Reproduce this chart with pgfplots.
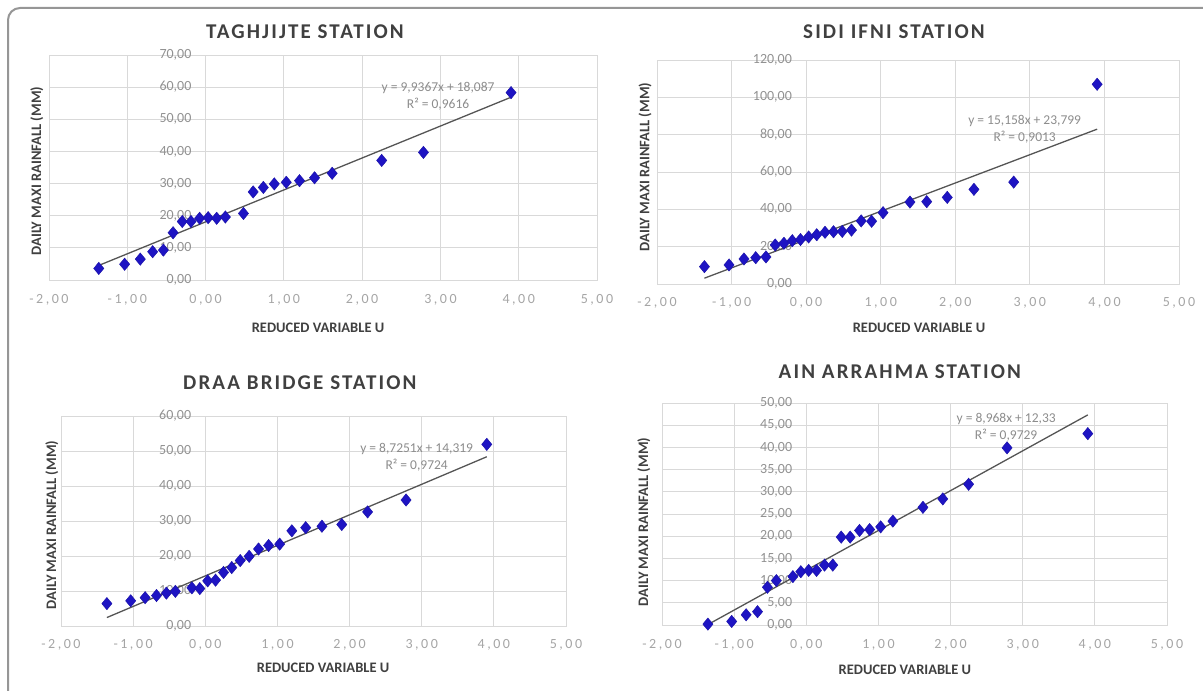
\documentclass[border=0pt]{standalone}
\usepackage{fontspec}
\setmainfont{Carlito}
\newfontfamily\titlefont[LetterSpace=10]{Carlito}
\newfontfamily\xtickfont[LetterSpace=18]{Carlito}
\usepackage{pgfplots}
\pgfplotsset{compat=1.18}
\definecolor{mk}{RGB}{30,20,195}
\definecolor{trend}{RGB}{85,85,85}
\definecolor{gridc}{RGB}{217,217,217}
\definecolor{ttl}{RGB}{64,64,64}
\definecolor{xt}{RGB}{165,165,165}
\definecolor{yt}{RGB}{145,145,145}
\definecolor{eq}{RGB}{140,140,140}
\definecolor{framec}{RGB}{150,150,150}

\tikzset{eqnode/.style={font=\fontsize{13.5bp}{17bp}\selectfont, text=eq, align=center, inner sep=0pt}}

\pgfplotsset{
  panel/.style={
    scale only axis,
    xmin=-2, xmax=5, ymin=0,
    xtick={-2,-1,0,1,2,3,4,5},
    xticklabels={{-2,00},{-1,00},{0,00},{1,00},{2,00},{3,00},{4,00},{5,00}},
    grid=major,
    major grid style={draw=gridc, line width=0.9bp},
    axis line style={draw=gridc, line width=0.9bp},
    major tick length=0pt,
    tick style={draw=none},
    x tick label style={font=\xtickfont\fontsize{14bp}{16bp}\selectfont, text=xt, anchor=center, inner sep=0pt},
    y tick label style={font=\fontsize{14bp}{16bp}\selectfont, text=yt, anchor=east, inner sep=0pt},
    every axis title/.style={font=\titlefont\bfseries\fontsize{21bp}{25bp}\selectfont, text=ttl, anchor=center},
    every axis x label/.style={font=\bfseries\fontsize{14.5bp}{17bp}\selectfont, text=ttl, anchor=center},
    every axis y label/.style={font=\bfseries\fontsize{14.5bp}{17bp}\selectfont, text=ttl, anchor=center, rotate=90},
    xlabel={REDUCED VARIABLE U},
    ylabel={DAILY MAXI RAINFALL (MM)},
    clip=false,
  },
  pts/.style={only marks, mark=diamond*, mark size=6.2bp, mark options={fill=mk, draw=mk!85!black, line width=0.4bp, xscale=1.1}},
  trendl/.style={no marks, draw=trend, line width=1.3bp},
}

\begin{document}
\begin{tikzpicture}[x=1bp,y=1bp]
\path[use as bounding box] (0,0) rectangle (1203,-691);
\draw[framec, line width=2bp, rounded corners=12bp] (8,-8) rectangle (1260,-740);

% ---------- TAGHJIJTE ----------
\begin{axis}[panel, at={(49bp,-280bp)}, anchor=south west, width=548bp, height=225bp,
  ymax=70, ytick={0,10,20,30,40,50,60,70},
  yticklabels={{0,00},{10,00},{20,00},{30,00},{40,00},{50,00},{60,00},{70,00}},
  y tick label style={xshift=142.6bp},
  x tick label style={yshift=-20bp},
  title={TAGHJIJTE STATION},
  title style={at={(rel axis cs:0.467,1.102)}},
  xlabel style={at={(rel axis cs:0.491,-0.213)}},
  ylabel style={at={(rel axis cs:-0.022,0.484)}},
]
\addplot[pts] coordinates {
(-1.364,3.6) (-1.034,4.9) (-0.834,6.5) (-0.676,8.8) (-0.539,9.3) (-0.415,14.7)
(-0.298,18.2) (-0.186,18.2) (-0.076,19.2) (0.033,19.4) (0.142,19.2) (0.253,19.6)
(0.484,20.7) (0.608,27.4) (0.738,28.8) (0.878,29.9) (1.031,30.4) (1.200,30.9)
(1.392,31.8) (1.617,33.2) (2.250,37.2) (2.783,39.7) (3.902,58.3)};
\addplot[trendl] coordinates {(-1.364,4.53) (3.902,56.86)};
\node[eqnode] at (axis cs:2.97,57.2) {y = 9,9367x + 18,087\\R² = 0,9616};
\end{axis}

% ---------- SIDI IFNI ----------
\begin{axis}[panel, at={(657bp,-284bp)}, anchor=south west, width=522bp, height=224bp,
  ymax=120, ytick={0,20,40,60,80,100,120},
  yticklabels={{0,00},{20,00},{40,00},{60,00},{80,00},{100,00},{120,00}},
  y tick label style={xshift=135.1bp},
  x tick label style={yshift=-19bp},
  title={SIDI IFNI STATION},
  title style={at={(rel axis cs:0.454,1.125)}},
  xlabel style={at={(rel axis cs:0.502,-0.196)}},
  ylabel style={at={(rel axis cs:-0.023,0.522)}},
]
\addplot[pts] coordinates {
(-1.364,9.3) (-1.034,10.2) (-0.834,13.4) (-0.676,14.1) (-0.539,14.5) (-0.415,20.9)
(-0.298,21.8) (-0.186,23.2) (-0.076,23.8) (0.033,25.2) (0.142,26.4) (0.253,27.7)
(0.367,28.0) (0.484,28.2) (0.608,28.9) (0.738,33.8) (0.878,33.6) (1.031,38.2)
(1.392,43.9) (1.617,44.1) (1.892,46.4) (2.250,50.7) (2.783,54.6) (3.902,107.0)};
\addplot[trendl] coordinates {(-1.364,3.12) (3.902,82.95)};
\node[eqnode] at (axis cs:2.93,83.0) {y = 15,158x + 23,799\\R² = 0,9013};
\end{axis}

% ---------- DRAA BRIDGE ----------
\begin{axis}[panel, at={(61bp,-626bp)}, anchor=south west, width=505bp, height=210bp,
  ymax=60, ytick={0,10,20,30,40,50,60},
  yticklabels={{0,00},{10,00},{20,00},{30,00},{40,00},{50,00},{60,00}},
  y tick label style={xshift=130.3bp},
  x tick label style={yshift=-19bp},
  title={DRAA BRIDGE STATION},
  title style={at={(rel axis cs:0.473,1.157)}},
  xlabel style={at={(rel axis cs:0.519,-0.2)}},
  ylabel style={at={(rel axis cs:-0.018,0.481)}},
]
\addplot[pts] coordinates {
(-1.364,6.4) (-1.034,7.2) (-0.834,8.1) (-0.676,8.7) (-0.539,9.4) (-0.415,9.9)
(-0.186,10.9) (-0.076,10.7) (0.033,12.9) (0.142,13.1) (0.253,15.3) (0.367,16.7)
(0.484,18.7) (0.608,19.9) (0.738,22.0) (0.878,23.0) (1.031,23.4) (1.200,27.2)
(1.392,28.1) (1.617,28.5) (1.892,29.0) (2.250,32.6) (2.783,36.0) (3.902,51.9)};
\addplot[trendl] coordinates {(-1.364,2.42) (3.902,48.36)};
\node[eqnode] at (axis cs:2.93,48.3) {y = 8,7251x + 14,319\\R² = 0,9724};
\end{axis}

% ---------- AIN ARRAHMA ----------
\begin{axis}[panel, at={(662bp,-625bp)}, anchor=south west, width=505bp, height=222bp,
  ymax=50, ytick={0,5,10,15,20,25,30,35,40,45,50},
  yticklabels={{0,00},{5,00},{10,00},{15,00},{20,00},{25,00},{30,00},{35,00},{40,00},{45,00},{50,00}},
  y tick label style={xshift=130.3bp},
  x tick label style={yshift=-20bp},
  title={AIN ARRAHMA STATION},
  title style={at={(rel axis cs:0.471,1.140)}},
  xlabel style={at={(rel axis cs:0.481,-0.203)}},
  ylabel style={at={(rel axis cs:-0.036,0.464)}},
]
\addplot[pts] coordinates {
(-1.364,0.2) (-1.034,0.8) (-0.834,2.3) (-0.676,3.0) (-0.539,8.5) (-0.415,10.0)
(-0.186,10.9) (-0.076,12.0) (0.033,12.3) (0.142,12.3) (0.253,13.5) (0.367,13.5)
(0.484,19.8) (0.608,19.8) (0.738,21.3) (0.878,21.5) (1.031,22.1) (1.200,23.4)
(1.617,26.5) (1.892,28.4) (2.250,31.7) (2.783,39.9) (3.902,43.1)};
\addplot[trendl] coordinates {(-1.364,0.10) (3.902,47.32)};
\node[eqnode] at (axis cs:2.77,44.6) {y = 8,968x + 12,33\\R² = 0,9729};
\end{axis}
\end{tikzpicture}
\end{document}
